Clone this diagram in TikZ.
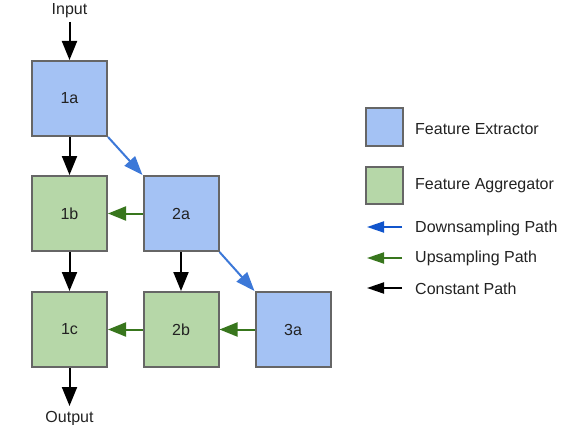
\documentclass[tikz,border=0pt]{standalone}
\usepackage{fontspec}
\setmainfont{Liberation Sans}
\usetikzlibrary{arrows.meta}
\definecolor{fblue}{HTML}{A4C2F4}
\definecolor{fgreen}{HTML}{B6D7A8}
\definecolor{bgray}{HTML}{666666}
\definecolor{ablue}{HTML}{3C78D8}
\definecolor{lblue}{HTML}{1155CC}
\definecolor{agreen}{HTML}{38761D}
\definecolor{txt}{HTML}{222222}
\begin{document}
\begin{tikzpicture}[x=1pt,y=-1pt,
  box/.style={draw=bgray,line width=2pt,minimum size=75pt,inner sep=0pt,text=txt,font=\fontsize{16}{19}\selectfont},
  ext/.style={box,fill=fblue},
  agg/.style={box,fill=fgreen},
  lbox/.style={draw=bgray,line width=2pt,minimum size=37pt,inner sep=0pt},
  lbl/.style={font=\fontsize{16}{19}\selectfont,text=txt,inner sep=0pt},
  cpath/.style={line width=2pt,black,-{Triangle[length=19pt,width=15pt]}},
  upath/.style={line width=2pt,agreen,-{Triangle[length=18pt,width=14pt]}},
  dpath/.style={line width=2pt,ablue,-{Triangle[length=19pt,width=14pt]}},
  lpath/.style={line width=2pt,-{Triangle[length=17pt,width=11pt]}}]
\useasboundingbox (0,0) rectangle (583,425);
\node[lbl] (in) at (69.5,10.5) {Input};
\node[lbl] (out) at (69.5,418.5) {Output};
\coordinate (inS) at (69.5,22);
\coordinate (outE) at (69.5,406);
\node[ext] (1a) at (69.5,98.5) {1a};
\node[agg] (1b) at (69.5,213.5) {1b};
\node[agg] (1c) at (69.5,329.5) {1c};
\node[ext] (2a) at (181,213.5) {2a};
\node[agg] (2b) at (181,329.5) {2b};
\node[ext] (3a) at (293,329.5) {3a};
\draw[cpath] (inS) -- (1a.north);
\draw[cpath] (1a) -- (1b);
\draw[cpath] (1b) -- (1c);
\draw[cpath] (1c.south) -- (outE);
\draw[cpath] (2a) -- (2b);
\draw[dpath] (1a.south east) -- (2a.north west);
\draw[dpath] (2a.south east) -- (3a.north west);
\draw[upath] (2a) -- (1b);
\draw[upath] (3a) -- (2b);
\draw[upath] (2b) -- (1c);
% legend
\node[lbox,fill=fblue] (lb1) at (384.5,127) {};
\node[lbox,fill=fgreen] (lb2) at (384.5,185.5) {};
\node[lbl,anchor=west] (t1) at (415,129) {Feature Extractor};
\node[lbl,anchor=west] (t2) at (415,186) {Feature Aggregator};
\node[lbl,anchor=west] (t3) at (415,228) {Downsampling Path};
\node[lbl,anchor=west] (t4) at (415,258) {Upsampling Path};
\node[lbl,anchor=west] (t5) at (415,289) {Constant Path};
\coordinate (a3s) at (402,227); \coordinate (a3e) at (367,227);
\coordinate (a4s) at (402,258); \coordinate (a4e) at (367,258);
\coordinate (a5s) at (402,288); \coordinate (a5e) at (367,288);
\draw[lpath,lblue] (a3s) -- (a3e);
\draw[lpath,agreen] (a4s) -- (a4e);
\draw[lpath,black] (a5s) -- (a5e);
\end{tikzpicture}
\end{document}
